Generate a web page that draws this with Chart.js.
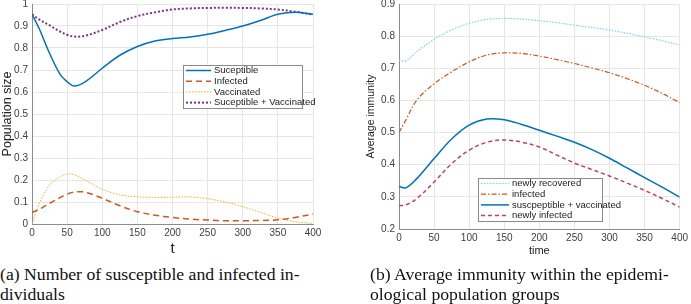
<!DOCTYPE html>
<html>
<head>
<meta charset="utf-8">
<script src="https://cdn.jsdelivr.net/npm/chart.js@4"></script>
<style>
  body { margin: 0; background: #fff; width: 691px; height: 304px; position: relative; overflow: hidden; }
  #chartA { position: absolute; left: 0px; top: -6px; }
  #chartB { position: absolute; left: 345px; top: -6px; }
  .cap { position: absolute; font-family: 'Liberation Serif', serif; font-size: 17.7px; line-height: 20px; color: #111; white-space: nowrap; }
</style>
</head>
<body>
<canvas id="chartA" width="330" height="266"></canvas>
<canvas id="chartB" width="346" height="272"></canvas>
<div class="cap" style="left:0px; top:264px;">(a) Number of susceptible and infected in-<br>dividuals</div>
<div class="cap" style="left:370px; top:264px;">(b) Average immunity within the epidemi-<br>ological population groups</div>
<script>
// left panel: population sizes
const tLeft = [0, 10, 25, 40, 50, 60, 75, 100, 125, 150, 175, 200, 225, 250, 275, 300, 325, 350, 375, 400]
const susceptible = [0.953, 0.89, 0.776, 0.68, 0.647, 0.627, 0.645, 0.708, 0.767, 0.807, 0.832, 0.843, 0.85, 0.862, 0.88, 0.9, 0.925, 0.953, 0.962, 0.953]
const infected = [0.052, 0.066, 0.094, 0.12, 0.136, 0.145, 0.145, 0.117, 0.083, 0.056, 0.04, 0.03, 0.022, 0.018, 0.015, 0.015, 0.016, 0.019, 0.03, 0.045]
const vaccinated = [0, 0.09, 0.177, 0.215, 0.227, 0.224, 0.2, 0.158, 0.133, 0.124, 0.121, 0.122, 0.123, 0.115, 0.1, 0.079, 0.053, 0.027, 0.01, 0.003]
const suscVacc = [0.953, 0.93, 0.903, 0.875, 0.86, 0.852, 0.855, 0.882, 0.918, 0.945, 0.962, 0.975, 0.98, 0.982, 0.983, 0.982, 0.98, 0.975, 0.965, 0.952]

// right panel: average immunity
const tRight = [0, 10, 25, 50, 75, 100, 125, 150, 175, 200, 225, 250, 275, 300, 325, 350, 375, 400]
const newlyRecovered = [0.725, 0.723, 0.751, 0.79, 0.819, 0.84, 0.852, 0.855, 0.853, 0.848, 0.842, 0.834, 0.827, 0.819, 0.809, 0.798, 0.786, 0.772]
const infectedImm = [0.5, 0.54, 0.6, 0.652, 0.689, 0.72, 0.741, 0.748, 0.746, 0.738, 0.727, 0.715, 0.701, 0.686, 0.668, 0.647, 0.622, 0.593]
const svImm = [0.332, 0.328, 0.356, 0.419, 0.48, 0.523, 0.542, 0.54, 0.525, 0.507, 0.489, 0.47, 0.447, 0.42, 0.39, 0.36, 0.33, 0.299]
const newlyInfected = [0.273, 0.275, 0.294, 0.346, 0.403, 0.445, 0.47, 0.477, 0.47, 0.455, 0.43, 0.405, 0.385, 0.365, 0.343, 0.32, 0.295, 0.268]

const pts = (xs, ys) => xs.map((x, i) => ({ x: x, y: ys[i] }))

const tickFont = { family: "'Liberation Sans', Arial, sans-serif", size: 10 }
const tickColor = '#404040'
const gridColor = '#e6e6e6'

// legend drawn inside the plot, matlab style
const boxLegend = {
  id: 'boxLegend',
  afterDraw(chart, args, opts) {
    const c = chart.ctx
    c.save()
    c.fillStyle = '#fff'
    c.fillRect(opts.x, opts.y, opts.w, opts.h)
    c.strokeStyle = '#8a8a8a'
    c.lineWidth = 1
    c.strokeRect(opts.x + 0.5, opts.y + 0.5, opts.w, opts.h)
    c.font = opts.fontSize + "px 'Liberation Sans', Arial, sans-serif"
    c.textBaseline = 'middle'
    chart.data.datasets.forEach((ds, i) => {
      const yy = opts.y + opts.first + i * opts.step
      c.strokeStyle = ds.borderColor
      c.lineWidth = ds.borderWidth
      c.setLineDash(ds.borderDash || [])
      c.beginPath()
      c.moveTo(opts.x + 3, yy)
      c.lineTo(opts.x + 3 + opts.lineLen, yy)
      c.stroke()
      c.setLineDash([])
      c.fillStyle = '#222'
      c.fillText(ds.label, opts.x + 6 + opts.lineLen, yy)
    })
    c.restore()
  }
}

function makeScales(yMin, yMax, yTitle, yTitleSize, xTitle, xTitleSize, yWidth, xHeight, xTitlePad) {
  return {
    x: {
      type: 'linear', min: 0, max: 400,
      ticks: { stepSize: 50, font: tickFont, color: tickColor, padding: 3, maxRotation: 0 },
      grid: { color: gridColor, drawTicks: false },
      border: { color: '#8c8c8c' },
      title: { display: true, text: xTitle, color: '#222', font: { family: "'Liberation Sans', Arial, sans-serif", size: xTitleSize }, padding: { top: 0, bottom: xTitlePad } },
      afterFit: s => { s.height = xHeight }
    },
    y: {
      min: yMin, max: yMax,
      ticks: { stepSize: 0.1, font: tickFont, color: tickColor, padding: 4, callback: v => Math.round(v * 10) / 10 },
      grid: { color: gridColor, drawTicks: false },
      border: { color: '#8c8c8c' },
      title: { display: true, text: yTitle, color: '#222', font: { family: "'Liberation Sans', Arial, sans-serif", size: yTitleSize }, padding: 0 },
      afterFit: s => { s.width = yWidth }
    }
  }
}

const lineDefaults = { pointRadius: 0, fill: false, tension: 0.35 }

const chartA = new Chart(document.getElementById('chartA'), {
  type: 'line',
  data: {
    datasets: [
      { ...lineDefaults, label: 'Suceptible', data: pts(tLeft, susceptible), borderColor: '#0072BD', borderWidth: 1.5 },
      { ...lineDefaults, label: 'Infected', data: pts(tLeft, infected), borderColor: '#D95319', borderWidth: 1.5, borderDash: [6, 4] },
      { ...lineDefaults, label: 'Vaccinated', data: pts(tLeft, vaccinated), borderColor: '#EDB120', borderWidth: 1, borderDash: [1.5, 1.5] },
      { ...lineDefaults, label: 'Suceptible + Vaccinated', data: pts(tLeft, suscVacc), borderColor: '#7E2F8E', borderWidth: 2, borderDash: [2, 2] }
    ]
  },
  options: {
    responsive: false,
    animation: false,
    layout: { padding: { left: 0, right: 17, top: 10, bottom: 0 } },
    scales: makeScales(0, 1, 'Population size', 12.5, 't', 15, 32, 36, 2),
    plugins: {
      legend: { display: false },
      tooltip: { enabled: false },
      boxLegend: { x: 183, y: 71, w: 119, h: 43, first: 5.5, step: 10.7, lineLen: 25, fontSize: 9.5 }
    }
  },
  plugins: [boxLegend]
})

const chartB = new Chart(document.getElementById('chartB'), {
  type: 'line',
  data: {
    datasets: [
      { ...lineDefaults, label: 'newly recovered', data: pts(tRight, newlyRecovered), borderColor: '#7FD0F2', borderWidth: 1.2, borderDash: [1.5, 1.5] },
      { ...lineDefaults, label: 'infected', data: pts(tRight, infectedImm), borderColor: '#D95319', borderWidth: 1.2, borderDash: [5, 2, 1.5, 2] },
      { ...lineDefaults, label: 'suscpeptible + vaccinated', data: pts(tRight, svImm), borderColor: '#0072BD', borderWidth: 1.5 },
      { ...lineDefaults, label: 'newly infected', data: pts(tRight, newlyInfected), borderColor: '#C2405E', borderWidth: 1.5, borderDash: [4, 3] }
    ]
  },
  options: {
    responsive: false,
    animation: false,
    layout: { padding: { left: 20, right: 8, top: 10, bottom: 0 } },
    scales: makeScales(0.2, 0.9, 'Average immunity', 10.5, 'time', 11, 34, 37, 8),
    plugins: {
      legend: { display: false },
      tooltip: { enabled: false },
      boxLegend: { x: 133, y: 184, w: 124, h: 43, first: 5.5, step: 10.7, lineLen: 28, fontSize: 9.5 }
    }
  },
  plugins: [boxLegend]
})
</script>
</body>
</html>
